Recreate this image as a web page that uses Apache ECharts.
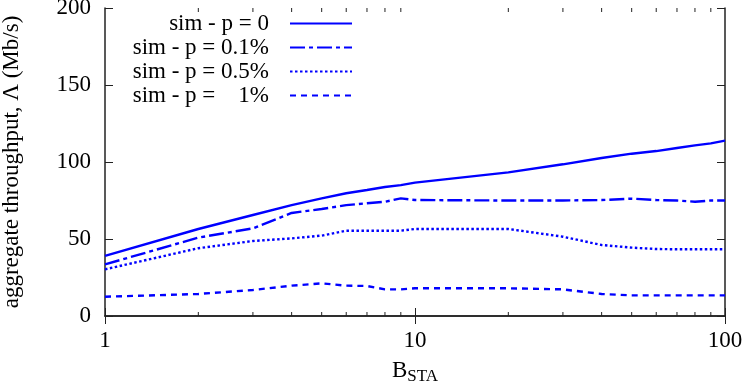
<!DOCTYPE html>
<html>
<head>
<meta charset="utf-8">
<script src="https://cdn.jsdelivr.net/npm/echarts@6/dist/echarts.min.js"></script>
<style>
  html, body { margin: 0; padding: 0; background: #fff; }
  #main { width: 747px; height: 388px; }
</style>
</head>
<body>
<div id="main"></div>
<script>
// B_STA values (log axis)
var bSta = [1, 2, 3, 4, 5, 6, 7, 8, 9, 10, 20, 30, 40, 50, 60, 70, 80, 90, 100];

// aggregate throughput (Mb/s)
var simP0 = [39, 56.5, 65.6, 72, 76.4, 79.7, 81.8, 83.8, 85, 86.6, 93.3, 98.5, 102.6, 105.4, 107.1, 109.1, 110.8, 112.1, 113.9];
var simP01 = [33.5, 50.9, 56.9, 66.9, 69.5, 72, 73.2, 74.2, 76.4, 75.3, 75, 75, 75.3, 76.2, 75.3, 75, 74.2, 75, 75];
var simP05 = [30.3, 44, 48.7, 50.4, 52.2, 55.4, 55.4, 55.4, 55.4, 56.5, 56.5, 51.5, 46.1, 44.4, 43.5, 43.3, 43.3, 43.3, 43.3];
var simP1 = [12.5, 14.3, 16.9, 19.7, 21.2, 19.7, 19.5, 17.3, 17.3, 18, 18, 17.3, 14.3, 13.4, 13.4, 13.4, 13.4, 13.4, 13.4];

var seriesNames = ['sim - p = 0', 'sim - p = 0.1%', 'sim - p = 0.5%', 'sim - p =    1%'];
var yTicks = [0, 50, 100, 150, 200];
var minorTicks = [2, 3, 4, 5, 6, 7, 8, 9, 20, 30, 40, 50, 60, 70, 80, 90];

var font = 'Liberation Serif';
var frame = '#222';

function pairs(ys) {
    return bSta.map(function (x, i) { return [x, ys[i]]; });
}

var dom = document.getElementById('main');
var myChart = echarts.init(dom, null, { renderer: 'canvas' });

var lineSeries = function (name, data, dash) {
    return {
        name: name,
        type: 'line',
        symbol: 'none',
        data: pairs(data),
        lineStyle: { color: '#0000ff', width: 2.4, type: dash },
        itemStyle: { color: '#0000ff' },
        z: 3
    };
};

var option = {
    animation: false,
    textStyle: { fontFamily: font },
    grid: { left: 105, right: 22, top: 8, bottom: 72, outerBoundsMode: 'none' },
    legend: {
        data: seriesNames,
        orient: 'vertical',
        left: 112,
        top: 7,
        align: 'right',
        itemWidth: 62,
        itemHeight: 14,
        itemGap: 1,
        itemStyle: { opacity: 0 },
        formatter: function (name) { return '{a|' + name + '}'; },
        textStyle: {
            fontFamily: font,
            fontSize: 23,
            color: '#000',
            rich: {
                a: { width: 152, align: 'right', fontSize: 23, fontFamily: font, color: '#000', padding: [0, 16, 0, 0], lineHeight: 23 }
            }
        }
    },
    xAxis: [
        {
            type: 'log',
            logBase: 10,
            min: bSta[0],
            max: bSta[bSta.length - 1],
            name: '{b|B}{s|STA}',
            nameLocation: 'middle',
            nameGap: 40,
            nameTextStyle: {
                fontFamily: font,
                rich: {
                    b: { fontSize: 23, fontFamily: font, color: '#000' },
                    s: { fontSize: 17, fontFamily: font, color: '#000', padding: [12, 0, 0, 0] }
                }
            },
            axisLine: { lineStyle: { color: frame, width: 1.5 } },
            axisTick: { inside: true, length: 8, lineStyle: { color: frame } },
            axisLabel: { fontSize: 23, fontFamily: font, color: '#000', margin: 13 },
            splitLine: { show: false }
        },
        {
            type: 'log',
            logBase: 10,
            position: 'top',
            min: bSta[0],
            max: bSta[bSta.length - 1],
            axisLine: { lineStyle: { color: frame, width: 1.5 } },
            axisTick: { inside: true, length: 8, lineStyle: { color: frame } },
            axisLabel: { show: false },
            splitLine: { show: false }
        }
    ],
    yAxis: [
        {
            type: 'value',
            min: yTicks[0],
            max: yTicks[yTicks.length - 1],
            interval: 50,
            name: 'aggregate throughput, Λ (Mb/s)',
            nameLocation: 'middle',
            nameGap: 82,
            nameTextStyle: { fontSize: 23, fontFamily: font, color: '#000' },
            axisLine: { show: true, lineStyle: { color: frame, width: 1.5 } },
            axisTick: { show: true, inside: true, length: 8, lineStyle: { color: frame } },
            axisLabel: { fontSize: 23, fontFamily: font, color: '#000', margin: 14 },
            splitLine: { show: false }
        },
        {
            type: 'value',
            position: 'right',
            min: yTicks[0],
            max: yTicks[yTicks.length - 1],
            interval: 50,
            axisLine: { show: true, lineStyle: { color: frame, width: 1.5 } },
            axisTick: { show: true, inside: true, length: 8, lineStyle: { color: frame } },
            axisLabel: { show: false },
            splitLine: { show: false }
        }
    ],
    series: [
        lineSeries(seriesNames[0], simP0, 'solid'),
        lineSeries(seriesNames[1], simP01, [15, 4, 4, 4]),
        lineSeries(seriesNames[2], simP05, [2.5, 2.5]),
        lineSeries(seriesNames[3], simP1, [6, 5]),
        {
            // minor log ticks, bottom and top of the frame
            type: 'custom',
            silent: true,
            data: minorTicks.map(function (v) { return [v, 0]; }),
            encode: { x: 0, y: 1 },
            renderItem: function (params, api) {
                var lo = api.coord([api.value(0), yTicks[0]]);
                var hi = api.coord([api.value(0), yTicks[yTicks.length - 1]]);
                return {
                    type: 'group',
                    children: [
                        { type: 'line', shape: { x1: lo[0], y1: lo[1], x2: lo[0], y2: lo[1] - 4 }, style: { stroke: frame, lineWidth: 1 } },
                        { type: 'line', shape: { x1: hi[0], y1: hi[1], x2: hi[0], y2: hi[1] + 4 }, style: { stroke: frame, lineWidth: 1 } }
                    ]
                };
            },
            z: 1
        }
    ]
};

myChart.setOption(option);
window.addEventListener('resize', myChart.resize);
</script>
</body>
</html>
